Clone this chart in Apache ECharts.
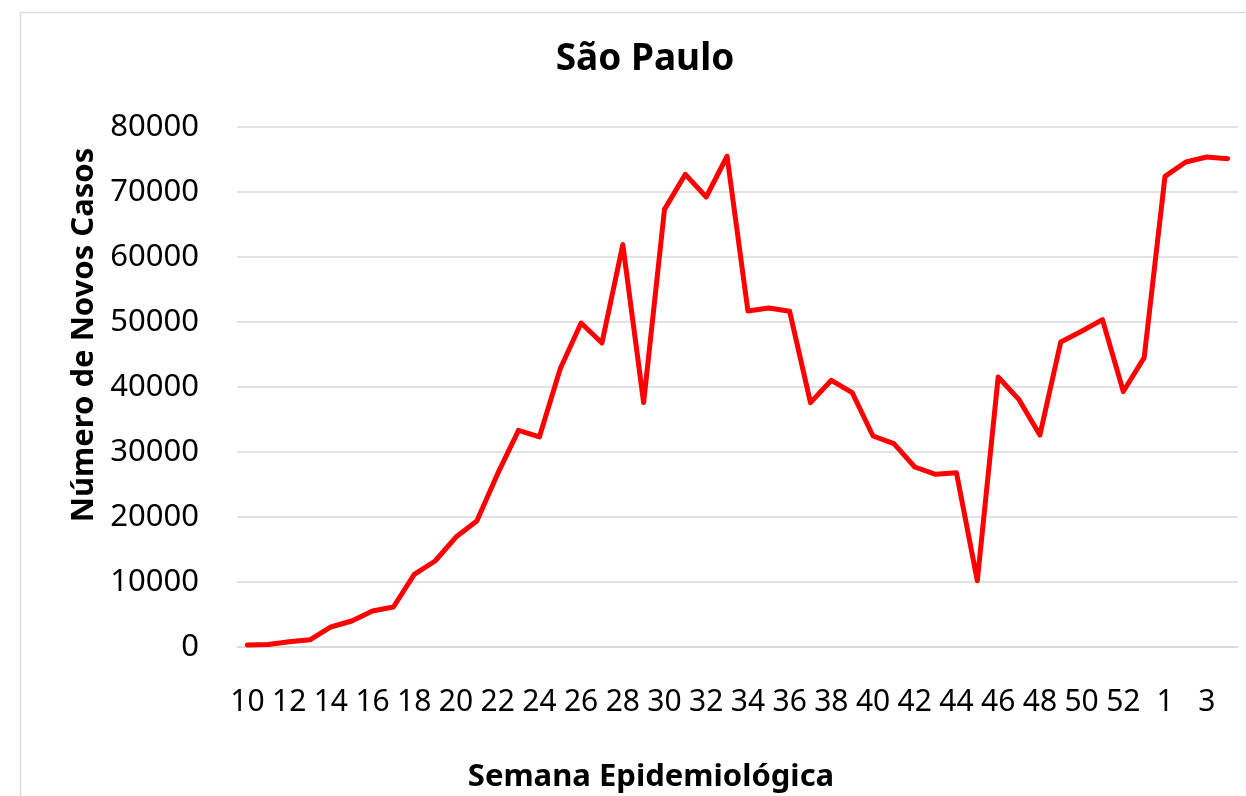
<!DOCTYPE html>
<html>
<head>
<meta charset="utf-8">
<style>
  html, body { margin: 0; padding: 0; background: #ffffff; }
  #chart { width: 1246px; height: 796px; }
</style>
<script src="https://cdn.jsdelivr.net/npm/echarts@6/dist/echarts.min.js"></script>
</head>
<body>
<div id="chart"></div>
<script>
// Epidemiological weeks (2020 weeks 10-53, then 2021 weeks 1-4)
const weeks = ['10','11','12','13','14','15','16','17','18','19','20','21','22','23','24','25','26','27','28','29','30','31','32','33','34','35','36','37','38','39','40','41','42','43','44','45','46','47','48','49','50','51','52','53','1','2','3','4'];
// New cases per week, São Paulo
const newCases = [300, 400, 800, 1100, 3080, 4000, 5540, 6150, 11180, 13230, 16920, 19380, 26670, 33330, 32310, 42820, 49840, 46770, 61900, 37600, 67330, 72720, 69230, 75500, 51690, 52150, 51640, 37600, 41030, 39130, 32460, 31280, 27690, 26560, 26820, 10200, 41540, 38050, 32600, 46920, 48570, 50360, 39300, 44510, 72410, 74620, 75380, 75130];
const yTicks = { min: 0, max: 80000, interval: 10000 };

const titleText = 'São Paulo';
const xTitle = 'Semana Epidemiológica';
const yTitle = 'Número de Novos Casos';

const chart = echarts.init(document.getElementById('chart'), null, { renderer: 'canvas' });
const font = '"Noto Sans", "Open Sans", sans-serif';

chart.setOption({
  backgroundColor: '#ffffff',
  animation: false,
  title: {
    text: titleText,
    left: 640,
    top: 36,
    textAlign: 'center',
    textStyle: { fontFamily: font, fontSize: 37, fontWeight: 'bold', color: '#000000' }
  },
  graphic: [{
    type: 'rect',
    shape: { x: 20.5, y: 12.5, width: 1300, height: 900 },
    style: { fill: 'none', stroke: '#d9d9d9', lineWidth: 1.5 },
    silent: true
  }, {
    type: 'text',
    x: 84, y: 335,
    rotation: Math.PI / 2,
    style: { text: yTitle, fontFamily: font, fontSize: 31, fontWeight: 'bold', fill: '#000000', align: 'center', verticalAlign: 'middle' },
    silent: true
  }, {
    type: 'text',
    x: 651, y: 777,
    style: { text: xTitle, fontFamily: font, fontSize: 31, fontWeight: 'bold', fill: '#000000', align: 'center', verticalAlign: 'middle' },
    silent: true
  }],
  grid: { left: 237, right: 8, top: 127, bottom: 149, containLabel: false },
  xAxis: {
    type: 'category',
    data: weeks,
    boundaryGap: true,
    axisLine: { show: true, lineStyle: { color: '#d9d9d9', width: 1.5 } },
    axisTick: { show: false },
    axisLabel: { interval: 1, fontFamily: font, fontSize: 30, color: '#000000', margin: 40 }
  },
  yAxis: {
    type: 'value',
    min: yTicks.min,
    max: yTicks.max,
    interval: yTicks.interval,
    axisLine: { show: false },
    axisTick: { show: false },
    splitLine: { show: true, lineStyle: { color: '#d9d9d9', width: 1.5 } },
    axisLabel: { fontFamily: font, fontSize: 31, color: '#000000', margin: 38, formatter: function (v) { return String(v); } }
  },
  series: [{
    type: 'line',
    data: newCases,
    showSymbol: false,
    symbol: 'none',
    lineStyle: { color: '#ff0000', width: 5, join: 'round', cap: 'round' },
    itemStyle: { color: '#ff0000' }
  }]
});
</script>
</body>
</html>
